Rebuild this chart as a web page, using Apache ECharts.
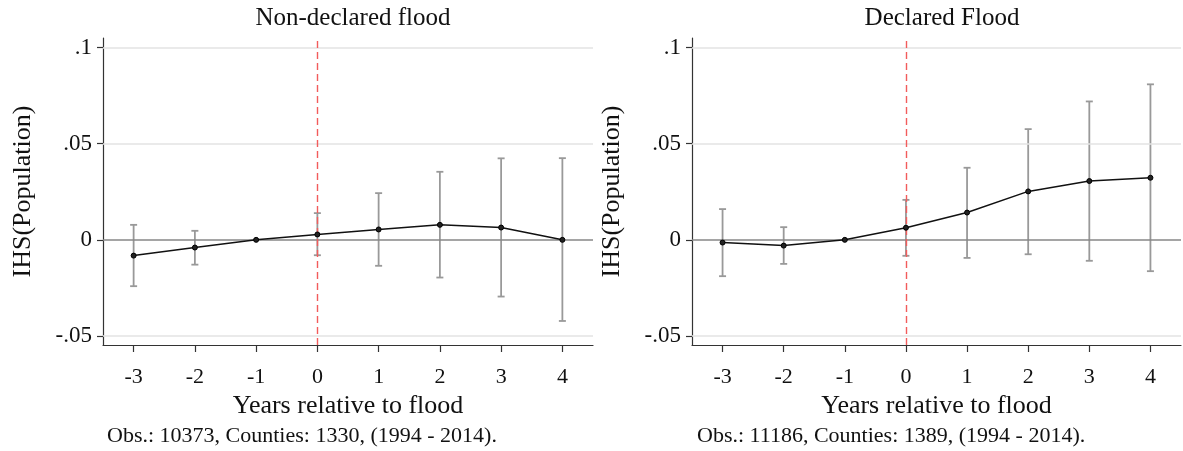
<!DOCTYPE html>
<html>
<head>
<meta charset="utf-8">
<script src="https://cdn.jsdelivr.net/npm/echarts@6/dist/echarts.min.js"></script>
<style>
  html, body { margin: 0; padding: 0; background: #fff; }
  #main { width: 1183px; height: 451px; }
</style>
</head>
<body>
<div id="main"></div>
<script>
const years = [-3, -2, -1, 0, 1, 2, 3, 4]
const yTicks = [-0.05, 0, 0.05, 0.1]
const yTickLabels = ['-.05', '0', '.05', '.1']

// Non-declared flood
const nonDeclaredCoef = [-0.0082, -0.0040, 0, 0.0028, 0.0054, 0.0078, 0.0064, 0.0000]
const nonDeclaredLow = [-0.0241, -0.0129, null, -0.0080, -0.0135, -0.0196, -0.0295, -0.0422]
const nonDeclaredHigh = [0.0078, 0.0047, null, 0.0139, 0.0243, 0.0354, 0.0424, 0.0425]

// Declared flood
const declaredCoef = [-0.0014, -0.0030, 0, 0.0063, 0.0142, 0.0252, 0.0306, 0.0323]
const declaredLow = [-0.0189, -0.0125, null, -0.0083, -0.0094, -0.0075, -0.0109, -0.0163]
const declaredHigh = [0.0160, 0.0066, null, 0.0208, 0.0375, 0.0576, 0.0720, 0.0809]

const panelTitles = ['Non-declared flood', 'Declared Flood']
const notes = [
  'Obs.: 10373, Counties: 1330, (1994 - 2014).',
  'Obs.: 11186, Counties: 1389, (1994 - 2014).'
]

const font = "'Liberation Serif', 'DejaVu Serif', serif"
const chart = echarts.init(document.getElementById('main'))

const grids = [
  { left: 103, top: 38, width: 490, height: 307 },
  { left: 692, top: 38, width: 489, height: 307 }
]

function makeXAxis (i) {
  return {
    type: 'value',
    gridIndex: i,
    min: -3.5,
    max: 4.5,
    name: 'Years relative to flood',
    nameLocation: 'middle',
    nameGap: 40,
    nameTextStyle: { fontFamily: font, fontSize: 26, color: '#111' },
    axisLine: { onZero: false, lineStyle: { color: '#333', width: 1.2 } },
    axisTick: { show: true, length: 7, customValues: years, lineStyle: { color: '#333', width: 1.2 } },
    axisLabel: {
      customValues: years,
      margin: 21,
      fontFamily: font,
      fontSize: 22,
      color: '#111'
    },
    splitLine: { show: false }
  }
}

function makeYAxis (i) {
  return {
    type: 'value',
    gridIndex: i,
    min: -0.0547,
    max: 0.105,
    name: 'IHS(Population)',
    nameLocation: 'middle',
    nameGap: 67,
    nameTextStyle: { fontFamily: font, fontSize: 26, color: '#111' },
    axisLine: { show: true, onZero: false, lineStyle: { color: '#333', width: 1.2 } },
    axisTick: { show: true, length: 6, customValues: yTicks, lineStyle: { color: '#333', width: 1.2 } },
    axisLabel: {
      customValues: yTicks,
      margin: 11,
      fontFamily: font,
      fontSize: 23,
      color: '#111',
      formatter: function (v) {
        const idx = yTicks.findIndex(t => Math.abs(t - v) < 1e-9)
        return idx >= 0 ? yTickLabels[idx] : ''
      }
    },
    splitLine: { show: false }
  }
}

function ciData (low, high) {
  const out = []
  years.forEach((y, k) => {
    if (low[k] !== null) out.push([y, low[k], high[k]])
  })
  return out
}

function renderBar (params, api) {
  const x = api.value(0)
  const lo = api.coord([x, api.value(1)])
  const hi = api.coord([x, api.value(2)])
  const half = 3.5
  const style = { stroke: '#999', lineWidth: 1.8 }
  return {
    type: 'group',
    children: [
      { type: 'line', shape: { x1: lo[0], y1: lo[1], x2: hi[0], y2: hi[1] }, style: style },
      { type: 'line', shape: { x1: lo[0] - half, y1: lo[1], x2: lo[0] + half, y2: lo[1] }, style: style },
      { type: 'line', shape: { x1: hi[0] - half, y1: hi[1], x2: hi[0] + half, y2: hi[1] }, style: style }
    ]
  }
}

function refLines (i, color, width, type, data, z) {
  return {
    type: 'line',
    xAxisIndex: i,
    yAxisIndex: i,
    data: [],
    silent: true,
    color: color,
    z: z,
    markLine: {
      silent: true,
      symbol: 'none',
      label: { show: false },
      emphasis: { disabled: true },
      animation: false,
      lineStyle: { color: color, width: width, type: type, opacity: 1 },
      data: data
    }
  }
}

function panelSeries (i, coef, low, high) {
  return [
    refLines(i, '#e3e3e3', 1.5, 'solid', [{ yAxis: 0.1 }, { yAxis: 0.05 }, { yAxis: -0.05 }], 1),
    refLines(i, '#878787', 1.6, 'solid', [{ yAxis: 0 }], 2),
    {
      type: 'custom',
      xAxisIndex: i,
      yAxisIndex: i,
      data: ciData(low, high),
      renderItem: renderBar,
      z: 3,
      animation: false
    },
    refLines(i, '#f25c5c', 1.4, [7, 4], [{ xAxis: 0 }], 4),
    {
      type: 'line',
      xAxisIndex: i,
      yAxisIndex: i,
      data: years.map((y, k) => [y, coef[k]]),
      symbol: 'circle',
      symbolSize: 5,
      lineStyle: { color: '#111', width: 1.5 },
      itemStyle: { color: '#222', borderColor: '#000', borderWidth: 1 },
      z: 5,
      animation: false
    }
  ]
}

const titleStyle = { fontFamily: font, fontSize: 25, fontWeight: 'normal', color: '#111' }
const noteStyle = { fontFamily: font, fontSize: 22, fontWeight: 'normal', color: '#111' }

const option = {
  backgroundColor: '#fff',
  title: [
    { text: panelTitles[0], left: 348, top: 1, textAlign: 'center', textStyle: titleStyle },
    { text: panelTitles[1], left: 937, top: 1, textAlign: 'center', textStyle: titleStyle },
    { text: notes[0], left: 102, top: 420, textStyle: noteStyle },
    { text: notes[1], left: 692, top: 420, textStyle: noteStyle }
  ],
  grid: grids,
  xAxis: [makeXAxis(0), makeXAxis(1)],
  yAxis: [makeYAxis(0), makeYAxis(1)],
  series: [].concat(
    panelSeries(0, nonDeclaredCoef, nonDeclaredLow, nonDeclaredHigh),
    panelSeries(1, declaredCoef, declaredLow, declaredHigh)
  )
}

chart.setOption(option)
</script>
</body>
</html>
